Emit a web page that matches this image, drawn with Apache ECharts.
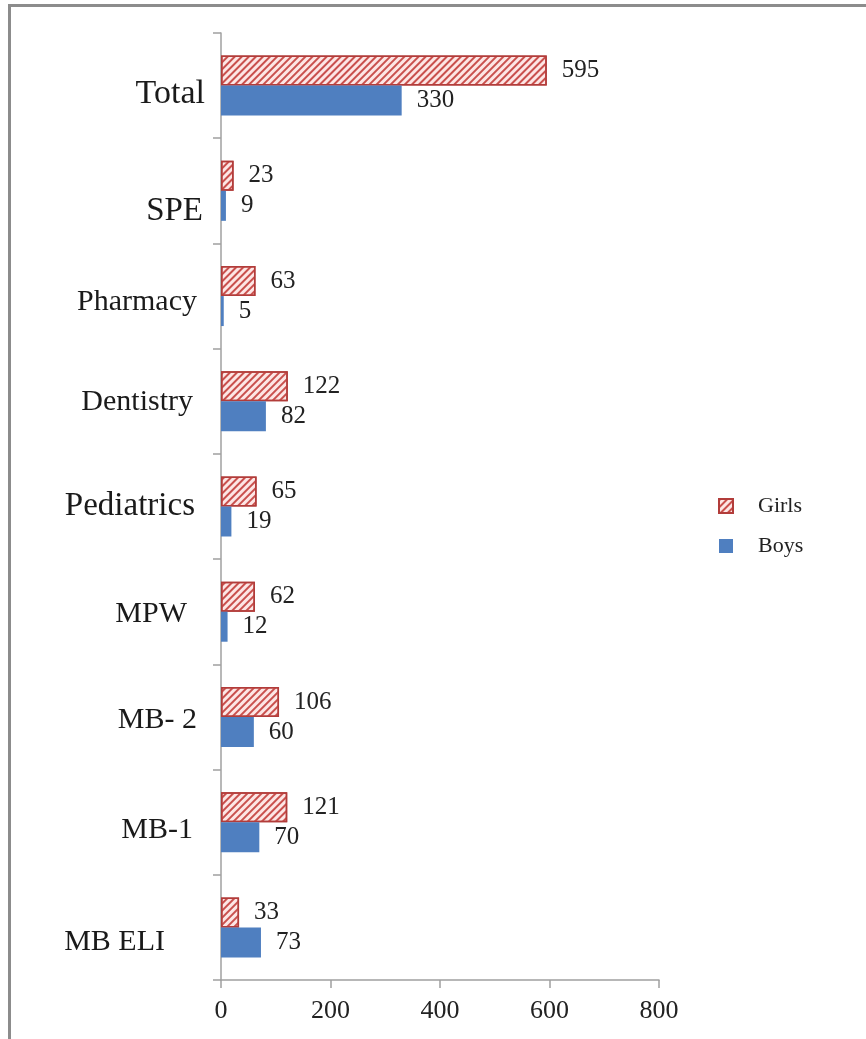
<!DOCTYPE html>
<html>
<head>
<meta charset="utf-8">
<script src="https://cdn.jsdelivr.net/npm/echarts@6/dist/echarts.min.js"></script>
<style>
html,body{margin:0;padding:0;background:#fff;}
#frame{position:absolute;left:8px;top:4px;right:0;bottom:0;border-top:3px solid #8c8c8c;border-left:3px solid #8c8c8c;}
#chart{position:absolute;left:0;top:0;width:866px;height:1039px;}
</style>
</head>
<body>
<div id="frame"></div>
<div id="chart"></div>
<script>
// categories bottom -> top
var categories = ['MB ELI', 'MB-1', 'MB- 2', 'MPW', 'Pediatrics', 'Dentistry', 'Pharmacy', 'SPE', 'Total'];
var girls = [33, 121, 106, 62, 65, 122, 63, 23, 595];
var boys = [73, 70, 60, 12, 19, 82, 5, 9, 330];
var xTicks = [0, 200, 400, 600, 800];

var serif = '"Liberation Serif", "DejaVu Serif", serif';

var chart = echarts.init(document.getElementById('chart'));

// each category label has its own little offset, like the original
var labelStyleKey = {
	'Total': 't', 'SPE': 's', 'Pharmacy': 'ph', 'Dentistry': 'd', 'Pediatrics': 'p',
	'MPW': 'm', 'MB- 2': 'm2', 'MB-1': 'm1', 'MB ELI': 'e'
};
function lbl(size, pad) {
	return {fontFamily: serif, fontSize: size, color: '#1a1a1a', padding: pad};
}

var valueLabel = {
	show: true,
	position: 'right',
	distance: 15,
	fontFamily: serif,
	fontSize: 25,
	color: '#222'
};

var option = {
	backgroundColor: 'transparent',
	animation: false,
	grid: {
		left: 221,
		right: 207,
		top: 33,
		bottom: 59
	},
	legend: {
		data: ['Girls', 'Boys'],
		orient: 'vertical',
		left: 713,
		top: 490,
		itemWidth: 14,
		itemHeight: 14,
		itemGap: 18,
		icon: 'rect',
		textStyle: {
			fontFamily: serif,
			fontSize: 22,
			color: '#222',
			padding: [0, 0, 0, 20]
		}
	},
	xAxis: {
		type: 'value',
		min: xTicks[0],
		max: xTicks[xTicks.length - 1],
		interval: 200,
		splitLine: {show: false},
		axisLine: {show: true, lineStyle: {color: '#a0a0a0', width: 1.5}},
		axisTick: {show: true, length: 8, lineStyle: {color: '#a0a0a0', width: 1.5}},
		axisLabel: {
			fontFamily: serif,
			fontSize: 26,
			color: '#222',
			margin: 18
		}
	},
	yAxis: {
		type: 'category',
		data: categories,
		axisLine: {show: true, lineStyle: {color: '#a0a0a0', width: 1.5}},
		axisTick: {show: true, length: 8, lineStyle: {color: '#a0a0a0', width: 1.5}},
		axisLabel: {
			margin: 16,
			formatter: function (v) {
				return '{' + labelStyleKey[v] + '|' + v + '}';
			},
			rich: {
				t: lbl(34, [16, 0, 0, 0]),
				s: lbl(33, [40, 2, 0, 0]),
				ph: lbl(30, [12, 8, 0, 0]),
				d: lbl(30, [2, 12, 0, 0]),
				p: lbl(33, [0, 10, 0, 0]),
				m: lbl(30, [4, 18, 0, 0]),
				m2: lbl(30, [6, 8, 0, 0]),
				m1: lbl(30, [16, 12, 0, 0]),
				e: lbl(30, [30, 40, 0, 0])
			}
		}
	},
	series: [{
		name: 'Girls',
		type: 'bar',
		data: girls,
		barWidth: 30,
		barGap: '0%',
		itemStyle: {
			color: '#fde6e5',
			borderColor: '#b23c3a',
			borderWidth: 1.5,
			decal: {
				symbol: 'rect',
				symbolSize: 1,
				dashArrayX: [1, 0],
				dashArrayY: [2, 2.5],
				rotation: -Math.PI / 4,
				color: '#c9504d'
			}
		},
		label: valueLabel
	}, {
		name: 'Boys',
		type: 'bar',
		data: boys,
		barWidth: 30,
		barGap: '0%',
		itemStyle: {color: '#4f7fc0'},
		label: valueLabel
	}]
};
chart.setOption(option);
</script>
</body>
</html>
